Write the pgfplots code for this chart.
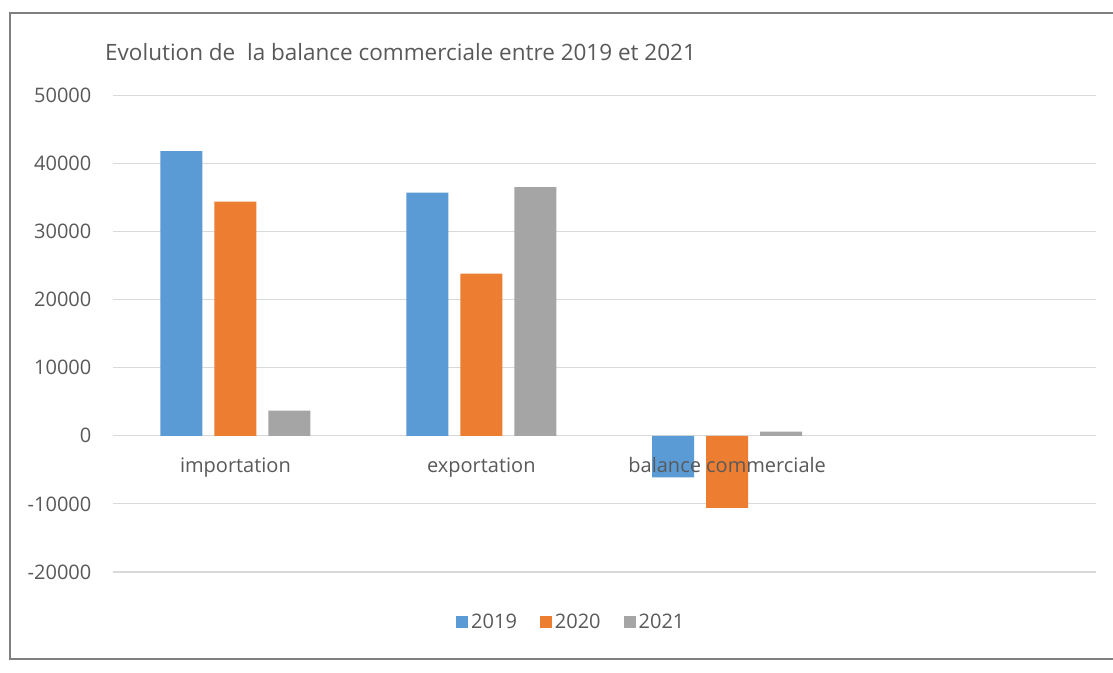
\documentclass[border=0pt]{standalone}
\usepackage{fontspec}
\setmainfont{Open Sans}
\usepackage{pgfplots}
\pgfplotsset{compat=1.18}
\definecolor{c19}{HTML}{5B9BD5}
\definecolor{c20}{HTML}{ED7D31}
\definecolor{c21}{HTML}{A5A5A5}
\definecolor{txt}{HTML}{595959}
\definecolor{grd}{HTML}{D9D9D9}
\definecolor{frm}{HTML}{7F7F7F}
\begin{document}
\begin{tikzpicture}[x=1pt,y=1pt]
\path[use as bounding box, fill=white] (0,0) rectangle (1113,672);
\draw[frm, line width=2pt] (9.5,13) rectangle (1125,659.3);
\node[anchor=west, inner sep=0pt, text=txt, font=\fontsize{22.5}{26}\selectfont] at (105,620) {Evolution de\ \ la balance commerciale entre 2019 et 2021};
\begin{axis}[
  at={(112.5pt,100pt)}, anchor=south west, scale only axis,
  width=983.5pt, height=476.7pt,
  xmin=-0.5, xmax=3.5, ymin=-20000, ymax=50000,
  ytick={-20000,-10000,0,10000,20000,30000,40000,50000},
  xtick=\empty,
  ymajorgrids, grid style={grd, line width=1.2pt},
  axis line style={draw=none}, major tick length=0pt,
  yticklabel style={anchor=east, inner sep=0pt, xshift=-21pt, text=txt, font=\fontsize{20}{24}\selectfont},
  /pgf/number format/assume math mode=true,
  /pgf/number format/1000 sep={},
  scaled y ticks=false,
  ybar=12pt, bar width=42pt,
  legend columns=3,
  legend style={at={(0.467,-0.105)}, anchor=center, draw=none, fill=none, text=txt,
    font=\fontsize{20}{24}\selectfont, inner sep=0pt,
    nodes={inner sep=3pt},
    /tikz/every even column/.append style={column sep=20pt}},
]
\addplot[fill=c19, draw=none, legend image code/.code={\fill[c19] (0pt,-6pt) rectangle (12pt,6pt);}]
  coordinates {(0,41800) (1,35700) (2,-6100)};
\addplot[fill=c20, draw=none, legend image code/.code={\fill[c20] (0pt,-6pt) rectangle (12pt,6pt);}]
  coordinates {(0,34400) (1,23800) (2,-10600)};
\addplot[fill=c21, draw=none, legend image code/.code={\fill[c21] (0pt,-6pt) rectangle (12pt,6pt);}]
  coordinates {(0,3700) (1,36500) (2,600)};
\legend{2019,2020,2021}
\node[text=txt, font=\fontsize{20}{24}\selectfont, anchor=base, yshift=-37pt] at (axis cs:0,0) {importation};
\node[text=txt, font=\fontsize{20}{24}\selectfont, anchor=base, yshift=-37pt] at (axis cs:1,0) {exportation};
\node[text=txt, font=\fontsize{20}{24}\selectfont, anchor=base, yshift=-37pt] at (axis cs:2,0) {balance commerciale};
\end{axis}
\end{tikzpicture}
\end{document}
